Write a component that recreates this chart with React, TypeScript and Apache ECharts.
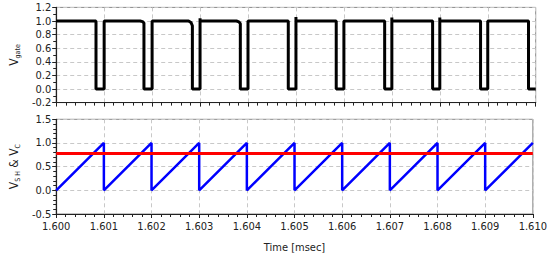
import React, { useEffect, useRef } from "react";
import * as echarts from "echarts";

// Switching period boundaries (msec)
const periodStarts = [1.600, 1.601, 1.602, 1.603, 1.604, 1.605, 1.606, 1.607, 1.608, 1.609];
const periodEnd = 1.610;
// Gate falling-edge times (msec), gate is low until next period boundary
const gateFallTimes = [1.60083, 1.60183, 1.60284, 1.60384, 1.60484, 1.60584, 1.60685, 1.60785, 1.60885, 1.60985];
// Small overshoot at some rising edges
const gateRiseOvershoot = [0, 0, 0, 0.04, 0, 0.06, 0, 0.05, 0.05, 0];
// Small droop just before some falling edges
const gateFallDroop = [0, 0.03, 0.07, 0.04, 0, 0, 0, 0, 0, 0];
const gateHigh = 1.0;
const gateLow = 0.0;
// Sawtooth (V_SH) min / peak per period
const sawMin = [0, 0, 0, 0, 0, 0, 0, 0, 0, 0];
const sawPeak = [1.0, 1.0, 1.0, 1.0, 1.0, 1.0, 1.0, 1.0, 1.0, 1.0];
// Control voltage V_C
const vControl = 0.78;

const xTickLabels = ["1.600", "1.601", "1.602", "1.603", "1.604", "1.605", "1.606", "1.607", "1.608", "1.609", "1.610"];

const FONT = "DejaVu Sans Condensed, DejaVu Sans, sans-serif";

export default function App() {
  const ref = useRef<HTMLDivElement>(null);
  useEffect(() => {
    if (!ref.current) return;
    const chart = echarts.init(ref.current, undefined, { renderer: "svg" });

    const gateData: [number, number][] = [];
    periodStarts.forEach((t0, i) => {
      const next = i + 1 < periodStarts.length ? periodStarts[i + 1] : periodEnd;
      if (i === 0) {
        gateData.push([t0, gateHigh]);
      } else {
        gateData.push([t0, gateLow]);
        if (gateRiseOvershoot[i] > 0) gateData.push([t0, gateHigh + gateRiseOvershoot[i]]);
        gateData.push([t0, gateHigh]);
      }
      if (gateFallDroop[i] > 0) {
        gateData.push([gateFallTimes[i] - 0.00008, gateHigh]);
        gateData.push([gateFallTimes[i] - 0.00003, gateHigh - gateFallDroop[i] * 0.3]);
        gateData.push([gateFallTimes[i], gateHigh - gateFallDroop[i]]);
      } else {
        gateData.push([gateFallTimes[i], gateHigh]);
      }
      gateData.push([gateFallTimes[i], gateLow]);
      if (next === periodEnd) gateData.push([next, gateLow]);
    });

    const sawData: [number, number][] = [];
    periodStarts.forEach((t0, i) => {
      const next = i + 1 < periodStarts.length ? periodStarts[i + 1] : periodEnd;
      sawData.push([t0, sawMin[i]]);
      sawData.push([next, sawPeak[i]]);
    });
    const vcData: [number, number][] = [[periodStarts[0], vControl], [periodEnd, vControl]];

    const labelStyle = { color: "#222", fontSize: 11, fontFamily: FONT };
    const splitLine = { show: true, lineStyle: { color: "#c8c8c8", type: [4, 3] as any, width: 1 } };
    const axisLine = { show: true, onZero: false, lineStyle: { color: "#222", width: 1.2 } };

    const left = 46.6;
    const right = 14.3;

    chart.setOption({
      animation: false,
      grid: [
        { left, right, top: 7.4, height: 95.2, show: true, borderColor: "#888", borderWidth: 1, backgroundColor: "transparent" },
        { left, right, top: 119.3, height: 94.7, show: true, borderColor: "#888", borderWidth: 1, backgroundColor: "transparent" },
      ],
      xAxis: [0, 1].map((g) => ({
        type: "value",
        gridIndex: g,
        min: 1.6,
        max: 1.61,
        interval: 0.001,
        axisLine,
        axisTick: { show: true, length: 4, lineStyle: { color: "#222" } },
        minorTick: { show: true, splitNumber: 5, length: 3, lineStyle: { color: "#222" } },
        splitLine,
        axisLabel: g === 1
          ? { ...labelStyle, margin: 7, formatter: (v: number) => xTickLabels[Math.round((v - 1.6) * 1000)] ?? "" }
          : { show: false },
        name: g === 1 ? "Time [msec]" : "",
        nameLocation: "middle",
        nameGap: 28,
        nameTextStyle: { ...labelStyle, fontSize: 11 },
      })),
      yAxis: [
        {
          type: "value",
          gridIndex: 0,
          min: -0.2,
          max: 1.2,
          interval: 0.2,
          axisLine,
          axisTick: { show: true, length: 4, lineStyle: { color: "#222" } },
          minorTick: { show: true, splitNumber: 2, length: 3, lineStyle: { color: "#222" } },
          splitLine,
          axisLabel: { ...labelStyle, margin: 5, formatter: (v: number) => v.toFixed(1) },
          name: "{v|V}{s|gate}",
          nameLocation: "middle",
          nameRotate: 90,
          nameGap: 31,
          nameTextStyle: {
            rich: {
              v: { fontSize: 12, fontFamily: FONT, color: "#222" },
              s: { fontSize: 7, fontFamily: FONT, color: "#222", padding: [7, 0, 0, 0] },
            },
          },
        },
        {
          type: "value",
          gridIndex: 1,
          min: -0.5,
          max: 1.5,
          interval: 0.5,
          axisLine,
          axisTick: { show: true, length: 4, lineStyle: { color: "#222" } },
          minorTick: { show: true, splitNumber: 5, length: 3, lineStyle: { color: "#222" } },
          splitLine,
          axisLabel: { ...labelStyle, margin: 5, formatter: (v: number) => v.toFixed(1) },
          name: "{v|V}{s|S H}{v| & V}{s|C}",
          nameLocation: "middle",
          nameRotate: 90,
          nameGap: 31,
          nameTextStyle: {
            rich: {
              v: { fontSize: 12, fontFamily: FONT, color: "#222" },
              s: { fontSize: 7, fontFamily: FONT, color: "#222", padding: [7, 0, 0, 0] },
            },
          },
        },
      ],
      series: [
        {
          type: "line",
          xAxisIndex: 0,
          yAxisIndex: 0,
          data: gateData,
          showSymbol: false,
          lineStyle: { color: "#000", width: 3 },
          z: 5,
        },
        {
          type: "line",
          xAxisIndex: 1,
          yAxisIndex: 1,
          data: sawData,
          showSymbol: false,
          lineStyle: { color: "#0000ff", width: 2.5 },
          z: 5,
        },
        {
          type: "line",
          xAxisIndex: 1,
          yAxisIndex: 1,
          data: vcData,
          showSymbol: false,
          lineStyle: { color: "#ff0000", width: 3 },
          z: 6,
        },
      ],
    });
    return () => chart.dispose();
  }, []);

  return <div ref={ref} style={{ width: 550, height: 256, position: "absolute", left: 0, top: 0 }} />;
}
